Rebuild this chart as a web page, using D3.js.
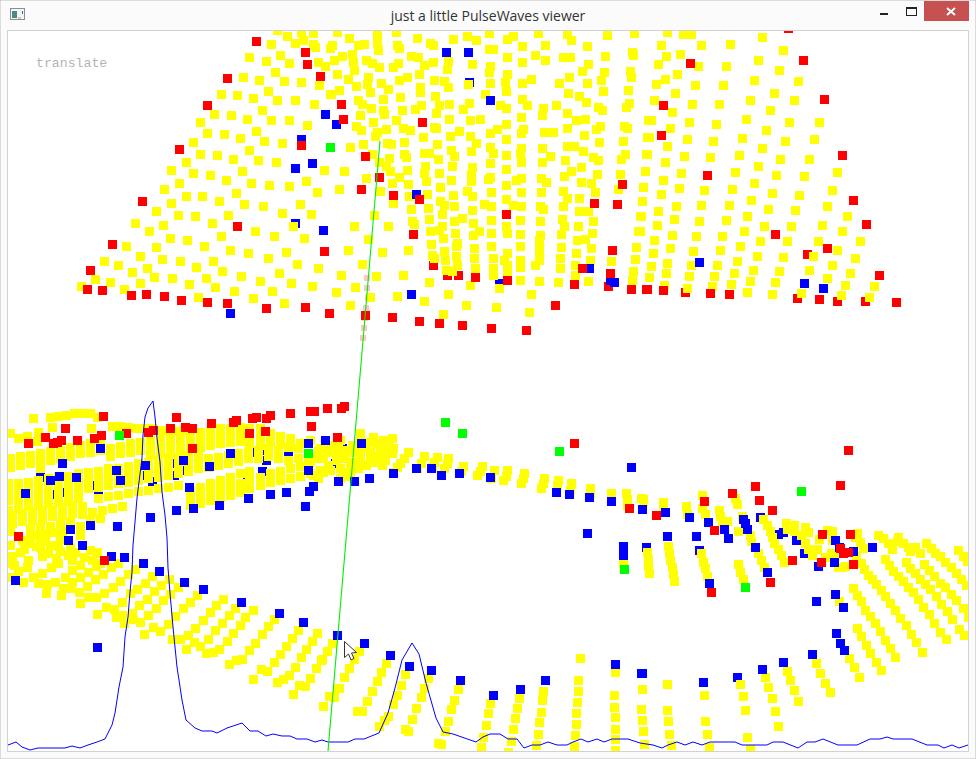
<!DOCTYPE HTML>
<html>
<head>
<meta charset="utf-8">
<script src="https://cdnjs.cloudflare.com/ajax/libs/d3/7.8.5/d3.min.js"></script>
<style>
html, body { margin: 0; padding: 0; background: #fff; }
svg { display: block; }
.mark { shape-rendering: crispEdges; }
</style>
</head>
<body>
<script>

var titleText = "just a little PulseWaves viewer";
var modeText = "translate";

// top surface, read left to right
var yellowTop = [
[277,30],[287,36],[301,32],[313,33],[271,44],[295,43],[303,40],[313,44],[315,47],[330,48],[250,57],[266,61],[280,55],[289,63],[318,62],[325,66],[275,72],[243,77],[259,80],[284,81],[301,82],[319,85],[268,91],[221,94],[237,95],[253,98],[277,101],[295,101],[314,104],[330,94],[262,111],[214,114],[231,115],[247,119],[271,120],[289,121],[307,125],[200,122],[256,131],[207,133],[224,134],[240,138],[264,141],[282,143],[193,142],[249,150],[200,154],[217,155],[233,159],[258,160],[276,162],[186,162],[171,170],[242,171],[324,170],[193,173],[210,175],[226,180],[251,183],[269,185],[289,186],[306,181],[179,183],[164,189],[236,193],[317,192],[186,196],[202,196],[219,201],[244,204],[263,207],[300,204],[171,203],[156,211],[282,213],[311,214],[178,215],[195,216],[228,215],[135,223],[163,225],[212,223],[293,226],[255,231],[149,232],[221,236],[274,237],[304,238],[170,238],[187,240],[126,246],[156,247],[204,246],[230,250],[248,253],[286,252],[140,256],[162,259],[180,261],[213,261],[268,258],[104,261],[118,265],[297,264],[196,267],[318,268],[147,268],[132,272],[222,271],[279,273],[154,277],[172,278],[206,278],[241,276],[260,281],[95,279],[110,282],[291,283],[140,283],[189,284],[81,286],[124,289],[215,287],[312,286],[234,291],[272,291],[198,297],[253,298],[284,303],
[332,45],[349,38],[337,32],[377,35],[377,43],[378,50],[358,45],[364,44],[397,45],[399,48],[396,32],[417,38],[430,43],[433,45],[453,39],[467,36],[476,40],[489,33],[507,39],[513,36],[522,46],[538,33],[545,45],[567,34],[571,40],[587,46],[607,35],[634,33],[489,49],[493,49],[508,57],[535,55],[522,62],[545,60],[563,57],[570,58],[588,64],[605,56],[632,52],[633,55],[342,56],[352,54],[334,60],[353,62],[366,60],[372,63],[379,67],[354,70],[398,63],[393,67],[411,56],[418,57],[433,62],[424,65],[448,61],[447,69],[472,64],[490,66],[489,72],[507,74],[582,71],[604,72],[630,71],[631,77],[569,77],[559,83],[587,83],[601,80],[531,79],[522,83],[505,82],[490,83],[337,74],[348,79],[368,77],[367,84],[381,83],[399,80],[407,77],[419,74],[434,80],[444,81],[448,87],[468,84],[356,86],[339,90],[331,94],[370,92],[388,89],[420,87],[420,92],[485,94],[506,91],[603,91],[628,90],[568,93],[579,96],[435,96],[400,97],[383,99],[358,101],[362,104],[371,108],[522,99],[586,102],[598,107],[629,103],[626,107],[556,106],[527,105],[506,108],[501,105],[469,103],[463,109],[449,104],[439,105],[421,106],[415,109],[402,111],[383,110],[384,114],[360,115],[436,113],[543,108],[542,116],[567,113],[521,117],[602,110],[585,119],[576,120],[480,119],[470,120],[449,119],[396,120],[373,122],[356,126],[361,130],[377,132],[386,129],[403,128],[410,130],[434,127],[436,128],[506,124],[497,129],[491,133],[523,129],[521,133],[544,132],[553,132],[567,128],[584,135],[600,126],[596,129],[624,126],[627,128],[648,120],[647,137],[459,131],[450,136],[470,136],[423,137],[375,136],[506,139],[623,141],[599,142],[387,143],[391,144],[404,142],[363,144],[350,147],[437,144],[476,143],[491,147],[521,148],[542,148],[567,146],[574,146],[583,151],[625,154],[646,154],[372,154],[404,154],[424,153],[429,153],[451,150],[471,151],[493,153],[506,155],[520,153],[550,156],[593,157],[598,160],[621,159],[389,158],[406,157],[438,159],[454,156],[521,162],[542,162],[565,160],[379,162],[491,163],[425,166],[452,166],[472,167],[386,166],[581,167],[344,171],[390,171],[407,170],[424,173],[439,173],[471,174],[506,169],[571,171],[564,176],[597,174],[620,174],[645,171],[366,178],[399,177],[426,181],[451,180],[471,181],[491,177],[488,179],[516,180],[521,178],[541,178],[546,182],[392,183],[408,184],[440,187],[506,185],[581,182],[591,183],[339,189],[380,191],[618,189],[643,187],[427,194],[453,195],[467,191],[472,196],[492,192],[521,192],[541,192],[563,191],[595,192],[409,196],[567,198],[579,198],[393,203],[440,201],[444,205],[484,204],[492,206],[506,199],[513,205],[521,207],[540,207],[543,209],[563,206],[642,201],[411,209],[428,208],[454,207],[472,210],[374,215],[442,214],[579,212],[588,212],[640,217],[429,219],[412,221],[414,224],[454,221],[462,218],[473,223],[492,220],[520,220],[540,221],[562,219],[593,221],[354,227],[388,226],[442,226],[564,226],[578,227],[506,227],[430,232],[439,230],[455,233],[479,231],[473,235],[492,233],[508,233],[520,234],[540,235],[561,234],[592,233],[638,231],[368,239],[443,238],[539,240],[577,240],[585,239],[431,244],[457,243],[456,246],[474,248],[492,246],[520,246],[539,247],[561,247],[348,250],[382,252],[408,250],[444,251],[636,247],[591,248],[507,253],[576,253],[539,252],[456,256],[432,255],[434,258],[445,260],[474,258],[493,258],[504,260],[520,260],[539,260],[560,258],[590,260],[611,261],[635,259],[362,264],[457,265],[475,268],[507,265],[520,267],[535,265],[560,268],[575,265],[493,268],[446,270],[452,271],[507,272],[633,271],[493,275],[520,280],[539,281],[558,282],[575,275],[588,281],[632,280],[341,275],[376,276],[403,275],[429,282],[470,285],[499,288],[355,287],[336,292],[370,297],[397,296],[424,301],[448,294],[531,294],[350,305],[466,305],[496,307],[443,314],[529,312],
[667,32],[683,34],[691,34],[762,37],[661,45],[701,45],[730,44],[783,50],[666,56],[680,54],[658,64],[698,66],[726,66],[758,60],[779,70],[677,74],[665,79],[656,84],[695,85],[723,85],[754,80],[798,81],[675,93],[774,93],[654,101],[692,104],[719,104],[750,101],[794,101],[672,112],[770,110],[651,120],[689,122],[716,124],[746,119],[789,122],[819,122],[670,128],[766,130],[649,137],[687,139],[713,141],[742,138],[785,141],[814,139],[667,146],[762,148],[647,154],[684,156],[710,157],[739,155],[780,159],[809,159],[665,162],[758,166],[645,171],[681,173],[735,172],[776,175],[804,176],[837,172],[663,180],[754,183],[643,187],[679,188],[704,190],[732,189],[772,193],[799,195],[832,190],[661,194],[642,201],[676,206],[701,205],[729,205],[751,200],[768,209],[795,210],[827,207],[658,211],[641,217],[674,219],[699,222],[726,220],[747,216],[847,217],[657,225],[764,226],[791,227],[822,225],[640,231],[672,235],[696,236],[722,236],[744,231],[842,232],[654,240],[760,241],[787,242],[818,241],[860,242],[670,248],[693,251],[720,250],[740,246],[837,250],[653,253],[757,256],[783,257],[813,256],[855,258],[667,263],[651,266],[691,265],[717,265],[737,261],[832,265],[753,270],[779,271],[809,270],[666,273],[649,277],[689,276],[714,276],[734,273],[850,273],[827,278],[664,285],[687,288],[712,286],[731,284],[750,281],[775,282],[845,285],[874,286],[747,292],[772,294],[801,293],[841,295],[869,297]
];

// left dense band
var yellowBand = [
[33,419],[50,417],[58,416],[66,415],[74,414],[82,414],[90,414],[97,417],[52,427],[91,428],[10,434],[18,438],[27,436],[38,432],[37,441],[112,426],[120,426],[128,427],[136,428],[144,428],[152,429],[160,430],[168,430],[176,431],[184,430],
[10,458],[20,456],[30,455],[40,453],[50,451],[60,450],[70,447],[80,445],[90,444],[100,442],
[10,467],[20,465],[30,464],[40,462],[50,460],[60,458],[70,456],[80,454],[90,452],[100,450],[110,448],[120,446],[130,444],[140,442],[150,440],[160,438],[170,437],[180,435],[190,433],[200,432],[210,430],[220,429],[230,428],[240,427],[250,428],[260,429],
[40,469],[110,456],[120,454],[130,452],[140,450],[150,448],[160,446],[170,444],[180,443],[190,441],[200,439],[210,437],[220,436],[230,434],[240,433],[250,435],[260,437],[270,434],[280,436],[290,438],
[150,455],[160,453],[170,452],[180,451],[190,449],[200,447],[210,445],[220,444],[230,442],[240,441],[250,443],[260,445],[270,442],[280,444],[290,446],[300,444],[310,440],
[8,484],[18,483],[28,482],[38,480],[48,478],[58,476],[68,476],[78,474],[88,472],[98,471],[108,469],[118,468],[128,466],[138,464],[148,462],[158,460],[168,458],[178,457],[188,455],[198,453],
[8,492],[18,491],[28,490],[38,488],[48,486],[58,485],[68,484],[78,482],[88,480],[98,479],[108,477],[118,476],[128,474],[138,472],[148,470],[158,469],[168,467],[178,465],[188,463],[198,461],[208,459],[218,457],[228,455],[238,453],[248,451],[258,450],[268,449],[278,450],[288,447],[298,449],
[8,500],[18,499],[28,498],[38,496],[48,495],[58,493],[68,492],[78,490],[88,488],[98,487],[108,485],[118,484],[128,482],[138,480],[148,478],[158,477],[168,475],[178,473],[188,471],[198,469],[208,467],[218,465],[228,463],[238,461],[248,459],[258,458],[268,456],[278,458],[288,460],[298,458],[308,462],[318,450],[328,446],[338,444],
[8,510],[18,508],[28,506],[38,505],[48,503],[58,501],[68,500],[78,498],[98,498],[108,496],[118,495],[128,493],[138,491],[148,490],[158,488],[168,487],[178,485],
[190,505],[200,503],[210,500],[220,497],[230,495],[240,492],[250,488],[260,485],[270,482],[280,480],[290,478],[300,476],[310,473],[320,470],[330,470],[340,468],[350,462],[360,460],[370,458],[380,455],
[190,497],[200,494],[210,491],[220,489],[230,486],[240,483],[250,480],[260,477],[270,474],[280,471],[290,468],[300,466],[310,462],
[190,490],[200,487],[210,483],[220,480],[230,477],[240,474],[250,471],
[340,440],[360,433],[360,440],[370,442],[373,437],[387,440],[380,450],[387,452],[370,452],[360,455],[353,462],[350,467],[343,472],[340,478],[327,445],[333,445],[317,458],[323,458],[323,472],[318,478],[313,475],
[320,448],[328,452],[336,452],[344,450],[352,445],[344,458],[336,460],[328,465],[352,452],[360,447],[366,447],[376,444],[383,440],[378,456],[372,462],[366,465],[358,468],[350,473],[345,476],[388,446],[382,458],[376,462],
[12,515],[22,513],[32,512],[42,510],[52,509],[62,507],[72,505],[82,506],
[12,523],[22,521],[32,520],[42,518],[52,516],[62,515],[72,513],[82,514],[92,512],[102,510],[112,508],[122,506],
[10,531],[30,529],[40,527],[50,526],[60,524],[70,522],[80,526],[90,520],[100,518],
[30,536],[38,535],[46,533],[54,532],[62,531],[22,540],[45,541],[58,546],
[10,545],[20,552],[30,543],[40,541],[50,545],[60,539],[70,547],[80,535],[90,550],
[12,556],[24,549],[36,546],[48,553],[60,551],[72,560],[84,557],[96,553],
[14,565],[28,560],[42,556],[56,558],[68,555],[80,565],[92,560],[100,563],[97,552],[75,552],[53,545],[40,547]
];

// lower arc, left part and the pulse bump
var yellowArc = [
[10,577],[23,582],[12,563],[18,571],[27,567],[33,577],[38,583],[42,573],[46,593],[47,584],[55,582],[51,567],[58,563],[65,577],[61,595],[63,588],[71,588],[72,582],[72,570],[80,577],[79,592],[80,603],[87,586],[88,597],[88,572],[96,597],[95,579],[97,614],[96,566],[104,593],[103,574],[106,607],[111,567],[113,587],[114,609],[116,617],[124,623],[123,615],[122,602],[120,581],[118,563],[128,574],[130,593],[132,613],[133,619],[135,569],[137,589],[139,605],[140,622],[145,583],[147,599],[148,615],[144,634],[152,576],[154,591],[156,608],[153,627],[160,631],[161,585],[163,600],[169,579],[170,594],[168,624],[175,616],[178,587],[183,608],[190,602],[197,595],[172,639],[180,639],[188,635],[186,649],[195,628],[194,642],[203,620],[200,646],[208,639],[206,653],[210,612],[213,652],[215,630],[219,649],[216,605],[223,599],[222,623],[229,615],[227,641],[235,608],[233,633],[240,625],[246,617],[253,610],[249,650],[255,643],[262,634],[268,626],[274,619],[242,659],[236,660],[229,664],[261,669],[267,671],[274,662],[280,654],[286,646],[292,638],[298,630],[317,633],[312,641],[306,649],[301,657],[295,667],[321,660],[316,668],[310,678],[289,675],[283,679],[277,682],[254,679],[299,685],[305,686],[293,694],[327,651],[332,643],[337,688],[329,696],[334,697],[323,706],
[359,651],[354,659],[349,668],[344,677],[339,688],[322,659],[386,663],[381,672],[377,681],[372,691],[367,701],[362,711],[357,711],[384,720],[379,726],[405,674],[401,685],[397,695],[393,704],[388,716],[428,678],[424,688],[421,697],[416,708],[412,719],[405,729],[408,731],[458,689],[454,700],[451,709],[448,721],[445,731],[438,743],[441,744],[491,703],[488,713],[486,725],[483,737],[481,747],[519,698],[517,708],[515,718],[513,729],[511,741],[509,752],[543,691],[542,700],[541,712],[539,722],[538,734],[536,745],[580,658],[578,680],[578,691],[577,702],[576,713],[576,724],[575,735],[574,746],[615,672],[614,695],[614,707],[615,717],[615,729],[615,739],[615,750],[642,689],[641,709],[642,720],[643,731],[644,744]
];

// middle strip and right hand side
var yellowRight = [
[392,439],[385,443],[383,448],[393,449],[392,453],[385,460],[382,465],[408,452],[404,458],[400,463],[397,467],[393,472],[424,456],[421,463],[417,468],[437,457],[434,462],[432,467],[448,458],[447,463],[444,469],[463,466],[461,471],[482,466],[480,471],[477,475],[494,470],[492,478],[507,470],[506,476],[503,480],[524,474],[523,479],[521,483],[544,478],[543,483],[541,488],[558,480],[557,485],[571,484],[570,490],[590,488],[590,493],[611,493],[626,493],[627,499],[627,505],[641,498],[643,502],
[643,499],[663,502],[663,510],[686,506],[687,514],[702,495],[702,508],[705,514],[719,511],[720,516],[727,521],[722,521],[735,498],[737,504],[742,516],[738,531],[750,535],[751,541],[763,519],[767,525],[770,531],[772,537],[774,543],[778,549],[781,555],[784,562],[758,553],[761,560],[764,567],[786,523],[787,529],[794,525],[794,531],[801,535],[805,527],[808,532],[805,543],[808,549],[812,555],[817,549],[819,539],[827,530],[832,531],[832,540],[831,553],[825,557],[857,533],[855,537],[860,542],[863,548],[856,556],[861,563],[864,569],[868,575],[872,579],[876,584],[881,590],[885,596],[890,603],[895,610],[900,618],[906,625],[911,634],[916,642],[922,652],[878,535],[883,538],[888,543],[892,549],[898,537],[897,541],[903,543],[908,547],[915,547],[910,551],[920,553],[926,543],[931,548],[935,553],[940,556],[945,562],[951,567],[956,573],[961,579],[966,585],[958,550],[963,556],[967,561],[885,559],[889,565],[893,571],[898,576],[903,581],[908,587],[913,592],[918,599],[923,607],[929,614],[934,623],[940,632],[946,639],[906,562],[910,568],[915,573],[920,579],[925,584],[930,589],[936,596],[941,604],[947,611],[952,619],[959,629],[964,635],[924,564],[929,570],[934,576],[940,583],[945,587],[951,594],[956,600],[963,608],[968,617],[853,588],[857,595],[861,601],[865,610],[870,616],[875,623],[880,631],[885,640],[890,648],[895,657],[857,628],[861,636],[866,645],[870,653],[876,662],[881,670],[849,658],[854,667],[859,677],[839,601],[816,663],[820,673],[825,683],[830,692],[787,671],[790,680],[794,690],[798,701],[765,677],[768,687],[772,698],[775,711],[778,726],[740,684],[743,696],[745,710],[747,737],[750,749],[704,695],[705,721],[707,734],[709,747],[667,684],[667,710],[668,721],[669,734],[671,745],[647,552],[648,559],[648,566],[649,573],[668,546],[669,553],[670,560],[672,567],[673,574],[674,581],[701,553],[703,562],[705,568],[707,576],[738,564],[740,572],[743,579],[833,557],[838,567],[842,567],[845,566],[623,563]
];

var blueUnder = [
[469,82],[295,223],[500,283],[760,517],[646,547],[699,550],[737,677],[804,553],[783,532],[778,534],[796,540],[40,477],[53,494],[60,492],[98,489],[93,485],[147,475],[152,481],[174,475],[168,460],[170,463],[188,466],[183,470],[249,452],[265,450],[266,460],[288,453],[262,471],[247,481],[342,448],[335,463]
];

var redUnder = [[807,254],[433,265],[447,275],[458,275],[608,286],[837,301],[865,301],[797,298],[685,292]];

var greenUnder = [[308,453]];

var blue = [
[325,114],[301,139],[295,168],[312,163],[323,230],[230,313],[446,52],[468,53],[490,100],[336,124],[416,194],[589,268],[610,280],[614,282],[411,294],[699,262],[804,283],[823,288],
[337,635],[364,643],[390,655],[409,666],[431,670],[460,680],[493,695],[520,689],[545,680],[615,664],[641,673],
[642,509],[665,512],[689,517],[708,522],[743,519],[745,523],[747,529],[724,529],[728,538],[667,536],[696,536],[755,547],[835,540],[839,547],[872,547],[853,551],[818,566],[834,562],[767,572],[709,583],[835,594],[816,601],[843,607],[836,633],[840,643],[844,650],[812,654],[783,662],[762,669],[703,682],[642,673],[623,546],[623,555],
[393,473],[416,469],[431,468],[441,475],[459,473],[490,477],[556,492],[569,494],[589,497],[611,501],[631,467],[587,533],
[100,448],[62,464],[116,470],[145,465],[183,460],[50,480],[59,476],[76,477],[120,480],[25,493],[189,487],[193,508],[176,511],[150,517],[117,526],[90,525],[70,529],[68,540],[82,545],[111,556],[125,557],[143,563],[159,571],[184,582],[15,580],[203,589],[241,602],[279,613],[303,622],[97,647],
[209,466],[313,486],[309,491],[338,481],[354,481],[369,479],[286,492],[270,494],[248,498],[219,505],[305,506],[230,454],[308,443],[308,470],[325,440],[361,443]
];

var red = [
[256,41],[305,53],[307,64],[320,76],[227,78],[207,106],[301,145],[179,149],[142,202],[237,227],[324,251],[112,244],[90,270],[87,289],[102,290],[131,295],[146,294],[164,296],[181,300],[207,302],[227,303],[266,308],[305,307],[329,313],
[341,104],[343,119],[422,122],[365,156],[379,177],[361,189],[393,195],[419,199],[622,184],[594,203],[617,204],[506,214],[413,234],[612,250],[582,268],[475,277],[508,280],[610,273],[574,284],[631,289],[646,289],[555,305],[365,315],[392,317],[419,321],[439,323],[462,325],[492,328],[526,330],
[788,29],[690,63],[803,60],[824,99],[663,105],[661,135],[842,155],[707,175],[853,200],[866,224],[775,234],[827,248],[879,275],[647,289],[663,290],[710,293],[729,294],[819,299],[896,302],
[755,486],[840,485],[848,450],[732,493],[704,501],[759,500],[656,515],[772,511],[714,530],[822,534],[850,534],[792,560],[821,562],[843,553],[848,552],[853,564],[770,582],[711,592],[840,548],
[574,444],[629,508],
[192,428],[211,424],[233,422],[236,420],[252,419],[256,417],[266,418],[270,415],[290,413],[310,411],[314,411],[327,409],[341,408],[344,406],[311,426],[250,433],[265,431],[337,437],[192,448],
[103,416],[176,417],[65,429],[45,437],[28,444],[53,444],[57,442],[61,440],[77,440],[94,438],[101,435],[126,434],[148,432],[153,430],[170,428],[185,427],[18,536],[104,560]
];

var green = [[330,147],[119,435],[445,422],[462,433],[559,451],[801,491],[745,587],[624,569]];

var pink = [[367,278],[367,288],[368,298],[366,308],[365,318],[364,328],[363,338]];

var pulse = [
[8,745],[16,742],[22,747],[30,750],[38,748],[65,748],[72,746],[80,748],[88,745],[97,742],[105,739],[112,725],[115,713],[119,687],[123,667],[125,637],[128,617],[130,592],[132,572],[133,545],[135,522],[137,498],[139,482],[142,458],[143,435],[145,417],[148,408],[153,401],[155,417],[157,438],[160,462],[162,492],[165,515],[167,538],[168,568],[170,593],[173,627],[177,667],[182,700],[186,720],[195,728],[202,731],[212,731],[217,733],[227,728],[242,723],[250,731],[258,731],[266,736],[273,734],[282,736],[290,736],[297,739],[307,739],[315,742],[322,740],[328,742],[348,742],[355,739],[364,739],[379,733],[388,713],[395,688],[402,660],[412,643],[419,654],[426,683],[436,718],[443,732],[453,734],[476,742],[483,737],[490,734],[500,734],[508,739],[517,739],[524,748],[532,745],[540,745],[548,742],[557,745],[567,745],[573,742],[581,739],[588,742],[597,739],[604,742],[612,739],[628,739],[640,743],[653,745],[662,748],[668,745],[677,742],[685,745],[693,742],[702,745],[710,742],[735,742],[742,745],[767,745],[773,742],[783,742],[798,748],[807,742],[815,742],[823,739],[838,745],[857,745],[870,739],[880,739],[887,737],[893,739],[912,739],[927,745],[938,745],[944,748],[952,745],[959,748],[968,745]
];

var beam = [[380,141],[328,751]];

var size = { x: 976, y: 759 };
var markSize = 9;

var svg = d3.select("body")
    .append("svg")
      .attr("width", size.x)
      .attr("height", size.y);

var xScale = d3.scaleLinear().domain([0, size.x]).range([0, size.x]);
var yScale = d3.scaleLinear().domain([0, size.y]).range([0, size.y]);

// window frame
svg.append("rect").attr("width", size.x).attr("height", size.y)
    .attr("fill", "#fbfbfb").attr("stroke", "#bdbdbd").attr("stroke-width", 1);
svg.append("rect").attr("x", 7.5).attr("y", 30.5).attr("width", 961).attr("height", 721)
    .attr("fill", "#fff").attr("stroke", "#d2d2d2");

svg.append("text").attr("x", 488).attr("y", 21)
    .attr("text-anchor", "middle")
    .attr("font-family", "'Open Sans', 'Noto Sans', sans-serif")
    .attr("font-size", 14).attr("fill", "#333")
    .text(titleText);

// title bar buttons
svg.append("rect").attr("x", 924).attr("y", 1).attr("width", 45).attr("height", 20).attr("fill", "#c75050");
svg.append("path").attr("d", "M947 8 L 955 15 M955 8 L 947 15").attr("stroke", "#fff").attr("stroke-width", 2);
svg.append("rect").attr("x", 880).attr("y", 13).attr("width", 8).attr("height", 2).attr("fill", "#222");
svg.append("rect").attr("x", 906.5).attr("y", 7.5).attr("width", 10).attr("height", 8)
    .attr("fill", "none").attr("stroke", "#222");
svg.append("rect").attr("x", 906).attr("y", 7).attr("width", 11).attr("height", 2).attr("fill", "#222");

// little app icon
svg.append("rect").attr("x", 10.5).attr("y", 8.5).attr("width", 14).attr("height", 11)
    .attr("fill", "#f4f4f4").attr("stroke", "#8a8f96");
svg.append("rect").attr("x", 12).attr("y", 11).attr("width", 5).attr("height", 7).attr("fill", "#4a8a86");
svg.append("rect").attr("x", 22).attr("y", 11).attr("width", 1).attr("height", 3).attr("fill", "#1f6fb5");
svg.append("rect").attr("x", 18).attr("y", 17).attr("width", 3).attr("height", 2).attr("fill", "#ccc");

svg.append("clipPath").attr("id", "plot")
  .append("rect").attr("x", 8).attr("y", 31).attr("width", 960).attr("height", 720);

var plot = svg.append("g").attr("clip-path", "url(#plot)");

function drawSquares(data, colour, side) {
    var s = side || markSize;
    plot.append("g").attr("class", "mark")
      .selectAll("rect")
      .data(data)
      .enter().append("rect")
        .attr("x", d => Math.round(xScale(d[0]) - s / 2))
        .attr("y", d => Math.round(yScale(d[1]) - s / 2))
        .attr("width", s)
        .attr("height", s)
        .attr("fill", colour);
}

drawSquares(pink, "#ffc4c4", 6);
drawSquares(blueUnder, "#0000ff");
drawSquares(redUnder, "#ff0000");
drawSquares(greenUnder, "#00ff00");
drawSquares(yellowTop, "#ffff00");
drawSquares(yellowBand, "#ffff00");
drawSquares(yellowArc, "#ffff00");
drawSquares(yellowRight, "#ffff00");
drawSquares(blue, "#0000ff");
drawSquares(red, "#ff0000");
drawSquares(green, "#00ff00");

var line = d3.line().x(d => xScale(d[0])).y(d => yScale(d[1]));

plot.append("path").datum(pulse)
    .attr("d", line)
    .attr("fill", "none")
    .attr("stroke", "#0000ff")
    .attr("stroke-width", 1);

plot.append("path").datum(beam)
    .attr("d", line)
    .attr("fill", "none")
    .attr("stroke", "#00f000")
    .attr("stroke-width", 1.1);

svg.append("text").attr("x", 36).attr("y", 67)
    .attr("font-family", "'Liberation Mono', monospace")
    .attr("font-size", 13.2).attr("fill", "#b4b4b4")
    .text(modeText);

// mouse pointer
svg.append("path")
    .attr("d", "M344.5 641.5 L344.5 657.5 L348.5 654 L351 660 L354 658.5 L351.5 653 L356.5 652.5 Z")
    .attr("fill", "#fff").attr("stroke", "#333").attr("stroke-width", 1);

</script>
</body>
</html>
